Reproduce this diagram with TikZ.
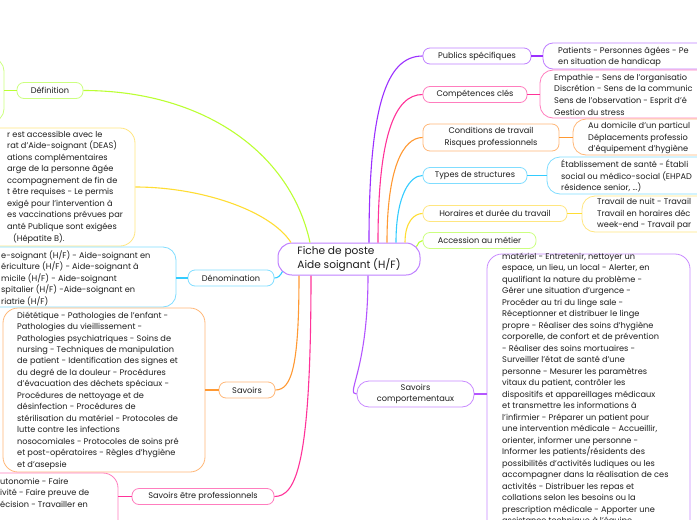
\documentclass[tikz,border=0pt]{standalone}
\usepackage{fontspec}
\setmainfont{Poppins}
\definecolor{lpur}{HTML}{9B30FF}
\definecolor{bpur}{HTML}{BF80FF}
\definecolor{lpink}{HTML}{FF3399}
\definecolor{bpink}{HTML}{FF7DBE}
\definecolor{lora}{HTML}{FF9933}
\definecolor{bora}{HTML}{FFB878}
\definecolor{lblue}{HTML}{33CCFF}
\definecolor{bblue}{HTML}{80DDFF}
\definecolor{lyel}{HTML}{FFDD33}
\definecolor{byel}{HTML}{FFE680}
\definecolor{lgreen}{HTML}{BBFF33}
\definecolor{bgreen}{HTML}{CCFF80}
\definecolor{lpur2}{HTML}{B455FF}
\definecolor{bpur2}{HTML}{C98AFF}
\definecolor{ink}{HTML}{1E1E1E}
\begin{document}
\begin{tikzpicture}[x=1pt,y=-1pt,
  box/.style={draw, fill=white, rounded corners=7pt, line width=0.8pt, inner sep=0pt, align=center,
    text=ink, font=\fontsize{8.2}{11}\selectfont},
  bigbox/.style={draw, fill=white, rounded corners=13pt, line width=0.8pt, inner sep=0pt},
  txt/.style={font=\fontsize{8.2}{11.5}\selectfont, text=ink, align=left, inner sep=0pt, anchor=west},
  edge/.style={line width=1.1pt},
  stub/.style={line width=1.8pt}]
\useasboundingbox (0,0) rectangle (697,520);
\clip (0,0) rectangle (697,520);
\fill[white] (0,0) rectangle (697,520);

% central node
\node[box, draw=bpur, rounded corners=14pt, line width=1pt, minimum width=142pt, minimum height=32pt,
  align=left, font=\fontsize{10.6}{14}\selectfont] (c) at (349,259) {Fiche de poste\\Aide soignant (H/F)};

% right main nodes
\node[box, draw=bpur, minimum width=108pt, minimum height=16pt] (pub) at (477,56) {Publics spécifiques};
\node[box, draw=bpink, minimum width=104pt, minimum height=16pt] (comp) at (475,94.5) {Compétences clés};
\node[box, draw=bora, minimum width=136pt, minimum height=27pt, font=\fontsize{8.2}{12}\selectfont] (cond) at (491,137.5) {Conditions de travail\\Risques professionnels};
\node[box, draw=bblue, minimum width=104pt, minimum height=16pt] (types) at (475,175.5) {Types de structures};
\node[box, draw=byel, minimum width=144pt, minimum height=16pt] (hor) at (495,213.5) {Horaires et durée du travail};
\node[box, draw=bgreen, minimum width=113pt, minimum height=16pt] (acc) at (479.5,240.5) {Accession au métier};
\node[box, draw=bpur2, rounded corners=12pt, minimum width=117pt, minimum height=26pt, font=\fontsize{8.2}{11}\selectfont] (comport) at (415.5,394) {Savoirs\\comportementaux};

% left main nodes
\node[box, draw=bgreen, minimum width=66pt, minimum height=16pt] (def) at (50,90.5) {Définition};
\node[box, draw=bblue, minimum width=86pt, minimum height=16pt] (den) at (231,278) {Dénomination};
\node[box, draw=bora, minimum width=56pt, minimum height=16pt] (sav) at (247,390) {Savoirs};
\node[box, draw=bpink, minimum width=142pt, minimum height=16pt] (sep) at (203,496.5) {Savoirs être professionnels};

% child boxes
\node[bigbox, draw=bpur, rounded corners=10pt, minimum width=177pt, minimum height=26pt] (pubC) at (631.5,56) {};
\node[bigbox, draw=bpink, minimum width=180pt, minimum height=48pt] (compC) at (630,94) {};
\node[bigbox, draw=bora, minimum width=147pt, minimum height=36pt] (condC) at (646.5,137) {};
\node[bigbox, draw=bblue, minimum width=173pt, minimum height=37pt] (typesC) at (633.5,175.5) {};
\node[bigbox, draw=byel, minimum width=138pt, minimum height=36pt] (horC) at (651,214) {};
\node[bigbox, draw=bpur2, rounded corners=15pt, minimum width=203pt, minimum height=306pt] (bigC) at (588.5,407) {};
\node[bigbox, draw=bgreen, minimum width=104pt, minimum height=64pt] (defC) at (-48,90) {};
\node[bigbox, draw=byel, rounded corners=15pt, minimum width=235pt, minimum height=118pt] (yelC) at (17.5,187) {};
\node[bigbox, draw=bblue, minimum width=276pt, minimum height=60pt] (denC) at (38,277) {};
\node[bigbox, draw=bora, rounded corners=15pt, minimum width=202pt, minimum height=164pt] (savC) at (104,390) {};
\node[bigbox, draw=bpink, rounded corners=15pt, minimum width=218pt, minimum height=87pt] (sepC) at (9,516.5) {};

% connectors from centre
\draw[edge, lpur] ([xshift=20pt]c.north) .. controls (369,110) and (385,56) .. (pub.west);
\draw[edge, lpink] ([xshift=29pt]c.north) .. controls (378,138) and (394,94.5) .. (comp.west);
\draw[edge, lora] ([xshift=38pt]c.north) .. controls (387,168) and (403,137.5) .. (cond.west);
\draw[edge, lblue] ([xshift=47pt]c.north) .. controls (396,195) and (410,175.5) .. (types.west);
\draw[edge, lyel] ([xshift=56pt]c.north) .. controls (405,222) and (414,213.5) .. (hor.west);
\draw[edge, lgreen] ([xshift=-4pt,yshift=-4pt]c.north east) .. controls (419,243) and (419,240.5) .. (acc.west);
\draw[edge, lgreen] ([xshift=-39pt]c.north) .. controls (290,150) and (200,90.5) .. (def.east);
\draw[edge, lyel] ([xshift=-58pt]c.north) .. controls (270,210) and (200,187) .. (yelC.east);
\draw[edge, lblue] ([xshift=5pt,yshift=4pt]c.south west) .. controls (280,276) and (278,278) .. (den.east);
\draw[edge, lora] ([xshift=-50pt]c.south) .. controls (299,365) and (292,390) .. (sav.east);
\draw[edge, lpink] ([xshift=-38pt]c.south) .. controls (311,465) and (296,496.5) .. (sep.east);
\draw[edge, lpur2] ([xshift=19pt]c.south) .. controls (368,372) and (345,394) .. (comport.west);

% stubs to children
\draw[stub, lpur] (pub.east) -- (pub.east -| pubC.west);
\draw[stub, lpink] (comp.east) -- (comp.east -| compC.west);
\draw[stub, lora] (cond.east) -- (cond.east -| condC.west);
\draw[stub, lblue] (types.east) -- (types.east -| typesC.west);
\draw[stub, lyel] (hor.east) -- (hor.east -| horC.west);
\draw[stub, lpur2] (comport.east) -- (comport.east -| bigC.west);
\draw[stub, lgreen] (def.west) -- (def.west -| defC.east);
\draw[stub, lblue] (den.west) -- (den.west -| denC.east);
\draw[stub, lora] (sav.west) -- (sav.west -| savC.east);
\draw[stub, lpink] (sep.west) -- (sep.west -| sepC.east);

% child texts
\node[txt, font=\fontsize{8.2}{11}\selectfont] (pubT) at (558,56.5) {Patients - Personnes âgées - Pe\\en situation de handicap};
\node[txt, font=\fontsize{8.2}{11.67}\selectfont] (compT) at (554,94.5) {Empathie - Sens de l’organisatio\\Discrétion - Sens de la communic\\Sens de l’observation - Esprit d’é\\Gestion du stress};
\node[txt] (condT) at (588,138) {Au domicile d’un particul\\Déplacements professio\\d’équipement d’hygiène};
\node[txt] (typesT) at (561,176) {Établissement de santé - Établi\\social ou médico-social (EHPAD\\résidence senior, ...)};
\node[txt] (horT) at (597,214) {Travail de nuit - Travail\\Travail en horaires déc\\week-end - Travail par};
\node[txt, font=\fontsize{8.2}{11.55}\selectfont] (yelT) at (7,187) {r est accessible avec le\\rat d’Aide-soignant (DEAS)\\ations complémentaires\\arge de la personne âgée\\ccompagnement de fin de\\t être requises - Le permis\\exigé pour l’intervention à\\es vaccinations prévues par\\anté Publique sont exigées\\\hspace*{6pt}(Hépatite B).};
\node[txt] (denT) at (1,278) {e-soignant (H/F) - Aide-soignant en\\ériculture (H/F) - Aide-soignant à\\micile (H/F) - Aide-soignant\\spitalier (H/F) -Aide-soignant en\\riatrie (H/F)};
\node[txt, font=\fontsize{8.2}{11.46}\selectfont] (savT) at (17,390.5) {Diététique - Pathologies de l’enfant -\\Pathologies du vieillissement -\\Pathologies psychiatriques - Soins de\\nursing - Techniques de manipulation\\de patient - Identification des signes et\\du degré de la douleur - Procédures\\d’évacuation des déchets spéciaux -\\Procédures de nettoyage et de\\désinfection - Procédures de\\stérilisation du matériel - Protocoles de\\lutte contre les infections\\nosocomiales - Protocoles de soins pré\\et post-opératoires - Règles d’hygiène\\et d’asepsie};
\node[txt] (sepT) at (0,492.5) {utonomie - Faire\\ivité - Faire preuve de\\écision - Travailler en};
\node[txt] (bigT) at (502,389.25) {matériel - Entretenir, nettoyer un\\espace, un lieu, un local - Alerter, en\\qualifiant la nature du problème -\\Gérer une situation d’urgence -\\Procéder au tri du linge sale -\\Réceptionner et distribuer le linge\\propre - Réaliser des soins d’hygiène\\corporelle, de confort et de prévention\\- Réaliser des soins mortuaires -\\Surveiller l’état de santé d’une\\personne - Mesurer les paramètres\\vitaux du patient, contrôler les\\dispositifs et appareillages médicaux\\et transmettre les informations à\\l’infirmier - Préparer un patient pour\\une intervention médicale - Accueillir,\\orienter, informer une personne -\\Informer les patients/résidents des\\possibilités d’activités ludiques ou les\\accompagner dans la réalisation de ces\\activités - Distribuer les repas et\\collations selon les besoins ou la\\prescription médicale - Apporter une\\assistance technique à l’équipe};
\end{tikzpicture}
\end{document}
